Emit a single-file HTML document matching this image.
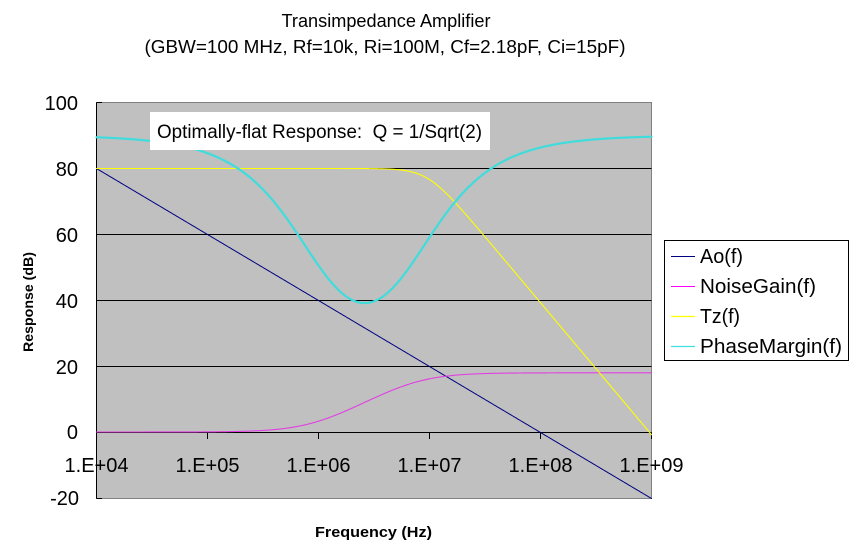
<!DOCTYPE html>
<html>
<head>
<meta charset="utf-8">
<style>
html,body{margin:0;padding:0;background:#fff;}
svg{display:block;}
text{font-family:"Liberation Sans",Arial,sans-serif;fill:#000;}
</style>
</head>
<body>
<svg id="chart" width="861" height="551" viewBox="0 0 861 551" xmlns="http://www.w3.org/2000/svg">
  <rect x="0" y="0" width="861" height="551" fill="#fff"/>
  <!-- title -->
  <text x="386" y="27" font-size="18" text-anchor="middle" textLength="209" lengthAdjust="spacingAndGlyphs">Transimpedance Amplifier</text>
  <text x="385" y="53" font-size="18" text-anchor="middle" textLength="481" lengthAdjust="spacingAndGlyphs">(GBW=100 MHz, Rf=10k, Ri=100M, Cf=2.18pF, Ci=15pF)</text>

  <!-- plot area -->
  <rect x="96.5" y="102.5" width="555" height="396" fill="#c0c0c0" stroke="#808080" stroke-width="1"/>
  <!-- gridlines -->
  <g stroke="#000" stroke-width="1">
    <line x1="96.5" y1="168.5" x2="651.5" y2="168.5"/>
    <line x1="96.5" y1="234.5" x2="651.5" y2="234.5"/>
    <line x1="96.5" y1="300.5" x2="651.5" y2="300.5"/>
    <line x1="96.5" y1="366.5" x2="651.5" y2="366.5"/>
    <!-- x axis at 0 -->
    <line x1="96.5" y1="432.5" x2="651.5" y2="432.5"/>
    <!-- x ticks -->
    <line x1="96.5" y1="432.5" x2="96.5" y2="439"/>
    <line x1="207.5" y1="432.5" x2="207.5" y2="439"/>
    <line x1="318.5" y1="432.5" x2="318.5" y2="439"/>
    <line x1="429.5" y1="432.5" x2="429.5" y2="439"/>
    <line x1="540.5" y1="432.5" x2="540.5" y2="439"/>
    <line x1="651.5" y1="432.5" x2="651.5" y2="439"/>
    <!-- y axis -->
    <line x1="96.5" y1="102.5" x2="96.5" y2="498.5"/>
    <line x1="96.5" y1="102.5" x2="102" y2="102.5"/>
    <line x1="96.5" y1="498.5" x2="102" y2="498.5"/>
  </g>

  <!-- series -->
  <g id="series" fill="none" stroke-linejoin="round" stroke-linecap="round"></g>

  <!-- annotation box -->
  <rect x="150" y="112" width="340" height="38" fill="#fff"/>
  <text x="157" y="138" font-size="19" textLength="325" lengthAdjust="spacingAndGlyphs" style="white-space:pre">Optimally-flat Response:  Q = 1/Sqrt(2)</text>

  <!-- y labels -->
  <g font-size="20" text-anchor="end">
    <text x="78" y="110">100</text>
    <text x="78" y="176">80</text>
    <text x="78" y="242">60</text>
    <text x="78" y="308">40</text>
    <text x="78" y="374">20</text>
    <text x="78" y="439">0</text>
    <text x="79" y="505">-20</text>
  </g>
  <!-- x labels -->
  <g font-size="20" text-anchor="middle">
    <text x="96.5" y="472">1.E+04</text>
    <text x="207.5" y="472">1.E+05</text>
    <text x="318.5" y="472">1.E+06</text>
    <text x="429.5" y="472">1.E+07</text>
    <text x="540.5" y="472">1.E+08</text>
    <text x="651.5" y="472">1.E+09</text>
  </g>

  <!-- axis titles -->
  <text x="373.5" y="537" font-size="15" font-weight="bold" text-anchor="middle" textLength="117" lengthAdjust="spacingAndGlyphs">Frequency (Hz)</text>
  <text transform="translate(33,302) rotate(-90)" x="0" y="0" font-size="14" font-weight="bold" text-anchor="middle" textLength="100" lengthAdjust="spacingAndGlyphs">Response (dB)</text>

  <!-- legend -->
  <rect x="664.5" y="240.5" width="184" height="120" fill="#fff" stroke="#000" stroke-width="1"/>
  <line x1="671" y1="256.5" x2="695" y2="256.5" stroke="#000080" stroke-width="1"/>
  <line x1="671" y1="286.5" x2="695" y2="286.5" stroke="#ff00ff" stroke-width="1"/>
  <line x1="671" y1="316.5" x2="695" y2="316.5" stroke="#ffff00" stroke-width="1.2"/>
  <line x1="671" y1="346.5" x2="695" y2="346.5" stroke="#40e0e0" stroke-width="1.2"/>
  <g font-size="20">
    <text x="700" y="263" textLength="43" lengthAdjust="spacingAndGlyphs">Ao(f)</text>
    <text x="700" y="293" textLength="116" lengthAdjust="spacingAndGlyphs">NoiseGain(f)</text>
    <text x="700" y="323" textLength="40" lengthAdjust="spacingAndGlyphs">Tz(f)</text>
    <text x="700" y="353" textLength="142" lengthAdjust="spacingAndGlyphs">PhaseMargin(f)</text>
  </g>
</svg>
<script>
(function(){
  var Rf=1e4, Ri=1e8, Cf=2.18e-12, Ci=15e-12, GBW=1e8;
  function C(r,i){return {r:r,i:i};}
  function add(a,b){return C(a.r+b.r,a.i+b.i);}
  function mul(a,b){return C(a.r*b.r-a.i*b.i,a.r*b.i+a.i*b.r);}
  function div(a,b){var d=b.r*b.r+b.i*b.i;return C((a.r*b.r+a.i*b.i)/d,(a.i*b.r-a.r*b.i)/d);}
  function mag(a){return Math.sqrt(a.r*a.r+a.i*a.i);}
  function arg(a){return Math.atan2(a.i,a.r);}
  function X(lf){return 96.5+111*(lf-4);}
  function Y(db){return 432.5-3.3*db;}
  var N=500, pA=[], pN=[], pT=[], pP=[];
  for(var k=0;k<=N;k++){
    var lf=4+5*k/N, f=Math.pow(10,lf), w=2*Math.PI*f;
    var Zf=div(C(Rf,0),C(1,w*Rf*Cf));
    var Zi=div(C(Ri,0),C(1,w*Ri*Ci));
    var NG=add(C(1,0),div(Zf,Zi));
    var A=div(C(GBW,0),C(0,f));
    var Tz=div(mul(Zf,A),add(NG,A));
    var aDb=20*Math.log10(mag(A));
    var nDb=20*Math.log10(mag(NG));
    var tDb=20*Math.log10(mag(Tz));
    var pm=90-arg(NG)*180/Math.PI;
    var x=X(lf).toFixed(2);
    pA.push(x+","+Y(aDb).toFixed(2));
    pN.push(x+","+(Y(nDb)-0.5).toFixed(2));
    pT.push(x+","+Y(tDb).toFixed(2));
    pP.push(x+","+Y(pm).toFixed(2));
  }
  var g=document.getElementById("series");
  var ns="http://www.w3.org/2000/svg";
  function pl(pts,col,wd){
    var e=document.createElementNS(ns,"polyline");
    e.setAttribute("points",pts.join(" "));
    e.setAttribute("stroke",col);
    e.setAttribute("stroke-width",wd);
    e.setAttribute("fill","none");
    g.appendChild(e);
  }
  pl(pA,"#000080",1);
  pl(pN,"#e040e0",1.1);
  pl(pT,"#ffff00",1.1);
  pl(pP,"#40dcdc",2.2);
})();
</script>
</body>
</html>
